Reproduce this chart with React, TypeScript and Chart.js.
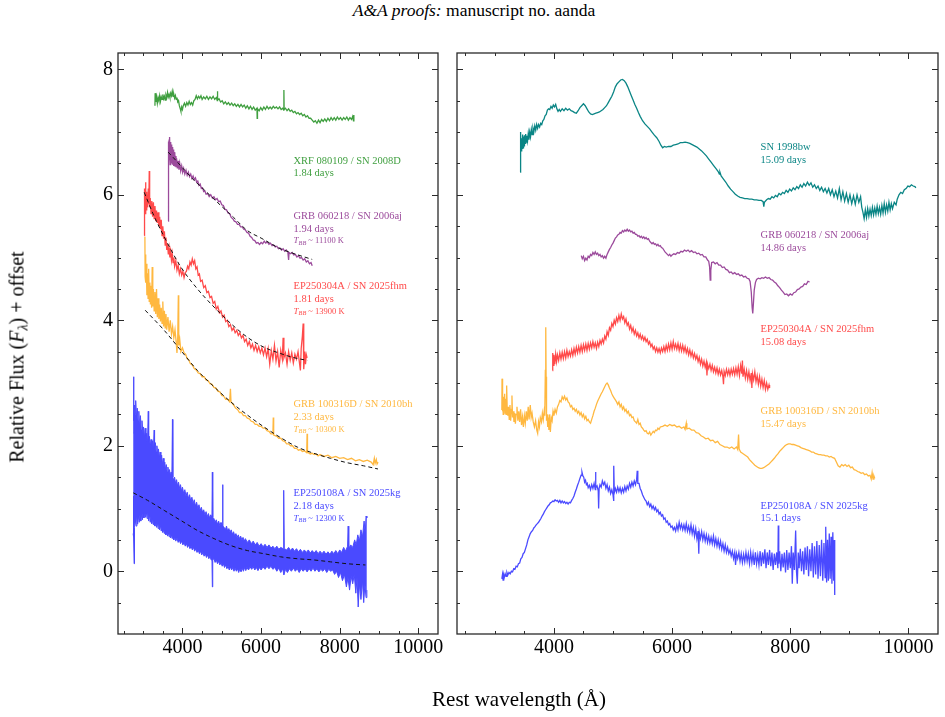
import React, { useEffect, useRef } from 'react';
import { Chart, registerables } from 'chart.js';

Chart.register(...registerables);

type P = [number, number];

// ---------- axes ----------
const X_MIN = 2360;
const X_MAX = 10500;
const Y_MIN = -1.0;
const Y_MAX = 8.26;
const X_TICKS = [4000, 6000, 8000, 10000];
const X_MINOR = [2500, 3000, 3500, 4500, 5000, 5500, 6500, 7000, 7500, 8500, 9000, 9500, 10500];
const Y_TICKS = [0, 2, 4, 6, 8];
const Y_MINOR = [-0.5, 0.5, 1, 1.5, 2.5, 3, 3.5, 4.5, 5, 5.5, 6.5, 7, 7.5];

// ---------- left panel: early spectra ----------
const XRF080109_EARLY: P[] = [[3300,7.42],[3305,7.62],[3320,7.48],[3340,7.56],[3360,7.46],[3380,7.55],[3400,7.50],[3420,7.58],[3440,7.49],[3460,7.56],[3480,7.52],[3500,7.60],[3520,7.53],[3540,7.57],[3560,7.51],[3580,7.59],[3600,7.55],[3620,7.63],[3640,7.56],[3660,7.60],[3680,7.55],[3700,7.62],[3720,7.58],[3740,7.65],[3760,7.57],[3780,7.60],[3800,7.54],[3820,7.58],[3840,7.52],[3860,7.55],[3880,7.48],[3900,7.50],[3920,7.42],[3940,7.38],[3960,7.33],[3980,7.40],[4000,7.36],[4020,7.42],[4050,7.46],[4080,7.41],[4110,7.47],[4140,7.43],[4170,7.49],[4200,7.44],[4230,7.47],[4260,7.43],[4290,7.50],[4320,7.52],[4350,7.58],[4380,7.53],[4410,7.57],[4440,7.54],[4470,7.58],[4500,7.52],[4540,7.56],[4580,7.53],[4620,7.57],[4660,7.52],[4700,7.56],[4740,7.53],[4780,7.57],[4820,7.52],[4860,7.55],[4885,7.50],[4890,7.65],[4895,7.51],[4930,7.53],[4970,7.48],[5010,7.50],[5050,7.45],[5090,7.48],[5130,7.44],[5170,7.47],[5210,7.43],[5250,7.46],[5290,7.42],[5330,7.45],[5370,7.41],[5410,7.44],[5450,7.40],[5490,7.44],[5530,7.40],[5570,7.43],[5610,7.38],[5650,7.42],[5690,7.37],[5730,7.41],[5770,7.36],[5810,7.40],[5850,7.35],[5895,7.38],[5900,7.22],[5908,7.37],[5950,7.34],[5990,7.39],[6030,7.35],[6070,7.40],[6110,7.36],[6150,7.41],[6190,7.37],[6230,7.40],[6270,7.37],[6310,7.41],[6350,7.38],[6390,7.40],[6430,7.37],[6470,7.40],[6510,7.36],[6550,7.38],[6575,7.35],[6580,7.67],[6586,7.36],[6620,7.38],[6660,7.34],[6700,7.37],[6740,7.33],[6780,7.35],[6820,7.31],[6860,7.33],[6900,7.29],[6940,7.31],[6980,7.28],[7020,7.30],[7060,7.26],[7100,7.28],[7140,7.24],[7180,7.26],[7220,7.22],[7260,7.22],[7300,7.19],[7340,7.16],[7380,7.18],[7420,7.14],[7460,7.19],[7500,7.15],[7540,7.20],[7580,7.17],[7620,7.21],[7660,7.17],[7700,7.22],[7740,7.18],[7780,7.23],[7820,7.19],[7860,7.23],[7900,7.19],[7940,7.24],[7980,7.20],[8020,7.23],[8060,7.19],[8100,7.23],[8140,7.20],[8180,7.24],[8220,7.19],[8260,7.23],[8300,7.20],[8330,7.25],[8350,7.18],[8360,7.27]];

const GRB060218_EARLY: P[] = [[3636,5.58],[3640,6.35],[3644,6.85],[3652,6.50],[3660,6.88],[3668,6.55],[3676,6.92],[3686,6.48],[3696,6.84],[3706,6.52],[3716,6.80],[3726,6.50],[3738,6.76],[3750,6.48],[3762,6.72],[3776,6.46],[3790,6.68],[3805,6.45],[3820,6.62],[3835,6.44],[3850,6.58],[3870,6.42],[3890,6.54],[3910,6.40],[3930,6.50],[3955,6.38],[3980,6.46],[4005,6.36],[4030,6.42],[4060,6.33],[4090,6.39],[4120,6.31],[4150,6.36],[4180,6.29],[4210,6.33],[4240,6.26],[4270,6.30],[4300,6.24],[4330,6.27],[4360,6.20],[4390,6.22],[4420,6.15],[4450,6.17],[4480,6.10],[4510,6.11],[4540,6.05],[4570,6.06],[4600,6.01],[4640,6.02],[4680,5.97],[4720,6.00],[4760,5.95],[4800,5.97],[4840,5.92],[4880,5.94],[4920,5.89],[4960,5.90],[5000,5.84],[5040,5.83],[5080,5.77],[5120,5.76],[5160,5.71],[5200,5.70],[5240,5.64],[5280,5.62],[5320,5.58],[5360,5.57],[5400,5.53],[5440,5.53],[5480,5.49],[5520,5.49],[5560,5.45],[5600,5.44],[5640,5.40],[5680,5.39],[5720,5.34],[5760,5.32],[5800,5.28],[5840,5.27],[5880,5.23],[5920,5.24],[5960,5.21],[6000,5.24],[6040,5.22],[6080,5.26],[6120,5.23],[6160,5.25],[6200,5.21],[6240,5.23],[6280,5.19],[6320,5.20],[6360,5.17],[6400,5.18],[6440,5.14],[6480,5.15],[6520,5.12],[6560,5.14],[6600,5.10],[6640,5.12],[6680,5.09],[6700,4.96],[6712,5.08],[6750,5.06],[6790,5.08],[6830,5.04],[6870,5.05],[6910,5.01],[6950,5.03],[6990,4.99],[7030,5.00],[7070,4.96],[7110,4.98],[7150,4.93],[7190,4.95],[7230,4.90],[7270,4.92],[7300,4.87]];

const EP250304A_EARLY: P[] = [[3027,5.35],[3030,5.90],[3040,6.10],[3050,5.70],[3060,6.20],[3070,5.85],[3080,6.05],[3090,5.75],[3100,6.00],[3115,5.80],[3130,6.10],[3145,5.85],[3155,6.38],[3165,5.80],[3180,5.95],[3200,5.70],[3220,5.90],[3240,5.65],[3260,5.88],[3280,5.62],[3300,5.82],[3320,5.58],[3340,5.75],[3360,5.55],[3380,5.72],[3400,5.50],[3420,5.65],[3440,5.45],[3460,5.60],[3480,5.35],[3500,5.50],[3520,5.30],[3540,5.42],[3560,5.20],[3580,5.32],[3600,5.12],[3620,5.22],[3640,5.05],[3660,5.15],[3680,5.00],[3700,5.10],[3720,4.96],[3740,5.06],[3760,4.92],[3780,5.00],[3800,4.86],[3830,4.95],[3860,4.80],[3890,4.88],[3920,4.74],[3950,4.82],[3980,4.72],[4010,4.78],[4040,4.68],[4070,4.76],[4100,4.78],[4130,4.86],[4160,4.82],[4190,4.93],[4220,4.88],[4250,4.98],[4280,4.90],[4310,4.95],[4340,4.82],[4370,4.85],[4400,4.72],[4430,4.74],[4460,4.62],[4500,4.64],[4540,4.52],[4580,4.55],[4620,4.44],[4660,4.46],[4700,4.36],[4740,4.38],[4780,4.27],[4820,4.30],[4860,4.18],[4900,4.22],[4940,4.12],[4980,4.15],[5020,4.05],[5060,4.08],[5100,3.98],[5140,4.00],[5180,3.90],[5220,3.93],[5260,3.84],[5300,3.88],[5340,3.80],[5380,3.84],[5420,3.76],[5460,3.80],[5500,3.72],[5540,3.76],[5580,3.66],[5620,3.70],[5660,3.60],[5700,3.66],[5740,3.56],[5780,3.62],[5820,3.52],[5860,3.60],[5900,3.50],[5940,3.58],[5980,3.48],[6020,3.56],[6060,3.45],[6100,3.56],[6140,3.42],[6180,3.55],[6220,3.30],[6260,3.52],[6300,3.38],[6340,3.60],[6380,3.35],[6420,3.50],[6460,3.25],[6500,3.52],[6540,3.38],[6560,3.72],[6580,3.40],[6620,3.48],[6660,3.30],[6700,3.50],[6740,3.36],[6780,3.48],[6820,3.32],[6860,3.46],[6900,3.38],[6940,3.50],[6980,3.30],[7000,3.20],[7020,3.55],[7050,3.75],[7070,3.95],[7080,3.40],[7090,3.22],[7110,3.50],[7130,3.30],[7150,3.45],[7170,3.40]];

const GRB100316D_EARLY: P[] = [[3044,5.33],[3050,4.70],[3060,5.05],[3070,4.60],[3080,4.90],[3095,4.40],[3110,4.75],[3125,4.35],[3140,4.82],[3155,4.30],[3170,4.60],[3185,4.25],[3200,4.55],[3215,4.20],[3230,4.85],[3245,4.22],[3260,4.50],[3280,4.15],[3300,4.45],[3320,4.10],[3340,4.50],[3360,4.05],[3380,4.35],[3400,4.02],[3420,4.25],[3440,3.98],[3460,4.20],[3480,3.95],[3500,4.30],[3520,3.90],[3540,4.15],[3560,3.88],[3580,4.10],[3600,3.85],[3630,4.05],[3660,3.82],[3690,4.00],[3720,3.78],[3750,3.90],[3780,3.72],[3810,3.85],[3840,3.65],[3860,3.48],[3880,3.75],[3895,4.40],[3905,3.60],[3930,3.70],[3960,3.50],[4000,3.56],[4040,3.48],[4080,3.46],[4120,3.39],[4160,3.37],[4200,3.31],[4250,3.29],[4300,3.23],[4350,3.21],[4400,3.16],[4450,3.15],[4500,3.10],[4550,3.10],[4600,3.05],[4650,3.04],[4700,2.99],[4750,2.98],[4800,2.93],[4850,2.92],[4900,2.87],[4950,2.86],[5000,2.80],[5050,2.79],[5100,2.74],[5150,2.74],[5200,2.70],[5220,2.91],[5235,2.70],[5300,2.65],[5350,2.60],[5400,2.58],[5450,2.53],[5500,2.53],[5550,2.48],[5600,2.48],[5650,2.44],[5700,2.43],[5750,2.39],[5800,2.38],[5850,2.34],[5900,2.34],[5950,2.31],[6000,2.31],[6050,2.28],[6100,2.28],[6150,2.24],[6200,2.23],[6250,2.19],[6300,2.19],[6310,2.45],[6320,2.17],[6400,2.15],[6450,2.12],[6500,2.12],[6550,2.08],[6600,2.07],[6650,2.03],[6700,2.03],[6750,2.00],[6800,2.00],[6850,1.96],[6900,1.96],[6950,1.93],[7000,1.94],[7050,1.91],[7100,1.92],[7160,1.89],[7170,2.19],[7180,1.90],[7250,1.87],[7300,1.88],[7350,1.86],[7400,1.87],[7450,1.84],[7500,1.86],[7600,1.83],[7700,1.85],[7800,1.81],[7900,1.83],[8000,1.80],[8100,1.81],[8200,1.78],[8300,1.80],[8400,1.76],[8500,1.78],[8600,1.75],[8700,1.77],[8800,1.74],[8850,1.70],[8880,1.80],[8900,1.72],[8930,1.78],[8950,1.71],[8975,1.74]];

const EP250108A_EARLY_HI: P[] = [[2745,2.20],[2755,3.10],[2765,2.40],[2780,2.65],[2795,2.50],[2810,2.72],[2830,2.45],[2850,2.60],[2870,2.40],[2890,2.55],[2910,2.30],[2930,2.48],[2950,2.25],[2970,2.40],[2990,2.20],[3010,2.30],[3030,2.12],[3050,2.28],[3070,2.05],[3090,2.20],[3110,2.02],[3130,2.55],[3140,2.05],[3160,2.15],[3180,1.98],[3200,2.10],[3220,1.95],[3240,2.08],[3260,1.92],[3280,2.25],[3290,1.95],[3310,2.05],[3330,1.90],[3350,2.00],[3370,1.85],[3390,1.95],[3410,1.80],[3430,1.90],[3450,1.75],[3470,1.85],[3490,1.70],[3510,1.80],[3530,1.66],[3550,1.74],[3570,1.62],[3590,1.70],[3610,1.58],[3630,1.66],[3650,1.55],[3670,1.62],[3690,1.52],[3710,1.58],[3730,1.48],[3745,2.42],[3755,1.50],[3775,1.45],[3800,1.50],[3825,1.40],[3850,1.46],[3875,1.36],[3900,1.42],[3925,1.32],[3950,1.38],[3975,1.28],[4000,1.34],[4030,1.24],[4060,1.30],[4090,1.20],[4120,1.26],[4150,1.16],[4180,1.22],[4210,1.12],[4240,1.18],[4270,1.08],[4300,1.14],[4330,1.04],[4360,1.10],[4390,1.00],[4420,1.06],[4450,0.97],[4480,1.02],[4510,0.94],[4540,0.98],[4570,0.90],[4600,0.95],[4630,0.87],[4660,0.92],[4690,0.85],[4720,0.90],[4750,0.86],[4760,1.58],[4770,0.86],[4800,0.84],[4830,0.78],[4860,0.82],[4890,0.75],[4920,0.80],[4950,0.73],[4980,0.78],[5010,0.74],[5020,1.38],[5030,0.72],[5060,0.70],[5090,0.66],[5120,0.72],[5150,0.64],[5180,0.68],[5210,0.62],[5240,0.66],[5270,0.59],[5300,0.63],[5330,0.56],[5360,0.60],[5390,0.54],[5420,0.58],[5450,0.52],[5480,0.56],[5510,0.50],[5540,0.54],[5570,0.48],[5600,0.52],[5650,0.46],[5700,0.50],[5750,0.44],[5800,0.48],[5850,0.42],[5900,0.46],[5950,0.40],[6000,0.44],[6050,0.39],[6100,0.43],[6150,0.38],[6200,0.42],[6250,0.37],[6300,0.40],[6350,0.36],[6400,0.40],[6450,0.35],[6500,0.38],[6560,0.36],[6575,1.29],[6590,0.36],[6650,0.34],[6700,0.38],[6750,0.33],[6800,0.37],[6850,0.32],[6900,0.36],[6950,0.31],[7000,0.35],[7050,0.30],[7100,0.34],[7150,0.30],[7200,0.34],[7250,0.29],[7300,0.33],[7350,0.29],[7400,0.33],[7450,0.28],[7500,0.32],[7550,0.28],[7600,0.32],[7650,0.27],[7700,0.31],[7750,0.27],[7800,0.32],[7850,0.28],[7900,0.33],[7950,0.28],[8000,0.34],[8050,0.30],[8100,0.38],[8150,0.32],[8200,0.40],[8215,0.72],[8230,0.36],[8280,0.42],[8330,0.38],[8380,0.50],[8420,0.42],[8460,0.58],[8500,0.48],[8540,0.66],[8580,0.55],[8620,0.80],[8650,0.62],[8670,0.88],[8690,0.85]];

const EP250108A_EARLY_LO: P[] = [[2745,0.60],[2752,1.20],[2760,0.55],[2770,0.12],[2780,0.70],[2800,0.82],[2820,0.72],[2840,0.86],[2860,0.75],[2880,0.88],[2900,0.78],[2920,0.90],[2940,0.80],[2960,0.92],[2980,0.82],[3000,0.95],[3020,0.85],[3040,0.96],[3060,0.86],[3080,0.95],[3100,0.84],[3120,0.92],[3140,0.80],[3160,0.90],[3180,0.78],[3200,0.88],[3220,0.76],[3240,0.85],[3260,0.74],[3280,0.82],[3300,0.72],[3320,0.80],[3340,0.70],[3360,0.78],[3380,0.68],[3400,0.75],[3420,0.66],[3440,0.73],[3460,0.64],[3480,0.70],[3500,0.62],[3520,0.68],[3540,0.60],[3560,0.66],[3580,0.58],[3600,0.64],[3620,0.56],[3640,0.62],[3660,0.55],[3680,0.60],[3700,0.53],[3720,0.58],[3740,0.52],[3760,0.56],[3780,0.50],[3800,0.55],[3830,0.48],[3860,0.53],[3890,0.46],[3920,0.50],[3950,0.44],[3980,0.48],[4010,0.42],[4040,0.46],[4070,0.40],[4100,0.44],[4130,0.38],[4160,0.42],[4190,0.36],[4220,0.40],[4250,0.34],[4280,0.38],[4310,0.32],[4340,0.36],[4370,0.30],[4400,0.34],[4430,0.28],[4460,0.32],[4490,0.26],[4520,0.30],[4550,0.24],[4580,0.28],[4610,0.22],[4640,0.26],[4670,0.20],[4700,0.24],[4730,0.18],[4750,0.20],[4760,-0.25],[4770,0.18],[4800,0.20],[4830,0.14],[4860,0.18],[4890,0.12],[4920,0.16],[4950,0.10],[4980,0.14],[5010,0.08],[5040,0.12],[5070,0.06],[5100,0.10],[5130,0.04],[5160,0.08],[5190,0.02],[5220,0.07],[5250,0.02],[5280,0.06],[5310,0.00],[5340,0.05],[5370,0.00],[5400,0.04],[5430,-0.02],[5460,0.04],[5490,-0.01],[5520,0.05],[5550,0.00],[5580,0.06],[5610,0.01],[5640,0.06],[5680,0.02],[5720,0.07],[5760,0.03],[5800,0.07],[5840,0.02],[5880,0.06],[5920,0.01],[5960,0.06],[6000,0.02],[6050,0.07],[6100,0.03],[6150,0.08],[6200,0.04],[6250,0.08],[6300,0.03],[6350,0.06],[6400,0.00],[6450,0.05],[6500,-0.02],[6550,0.04],[6580,-0.06],[6620,0.03],[6670,-0.02],[6720,0.04],[6770,0.00],[6820,0.05],[6870,0.00],[6920,0.04],[6970,-0.02],[7020,0.04],[7070,0.00],[7120,0.04],[7170,-0.01],[7220,0.04],[7270,0.00],[7320,0.05],[7370,0.00],[7420,0.04],[7470,-0.01],[7520,0.03],[7570,0.00],[7620,0.04],[7670,-0.02],[7720,0.03],[7770,0.00],[7820,0.02],[7870,-0.05],[7920,0.00],[7970,-0.10],[8020,-0.02],[8070,-0.15],[8120,-0.05],[8170,-0.25],[8210,-0.10],[8250,-0.30],[8290,-0.08],[8330,-0.20],[8370,-0.05],[8410,-0.35],[8440,-0.10],[8470,-0.57],[8500,-0.20],[8540,-0.45],[8580,-0.15],[8610,-0.50],[8640,-0.20],[8670,-0.42],[8690,-0.30]];

// blackbody fits (dashed)
const BB_GRB060218: P[] = [[3636,6.68],[3800,6.57],[4000,6.43],[4296,6.23],[4500,6.11],[5058,5.78],[5300,5.64],[5650,5.43],[6000,5.31],[6496,5.14],[6800,5.07],[7300,4.97]];
const BB_EP250304A: P[] = [[3027,6.04],[3250,5.70],[3535,5.33],[3958,4.85],[4381,4.50],[4804,4.21],[5227,3.95],[5650,3.73],[6073,3.57],[6496,3.47],[6800,3.41],[7173,3.36]];
const BB_GRB100316D: P[] = [[3052,4.16],[3535,3.84],[3958,3.52],[4381,3.20],[4804,2.94],[5227,2.70],[5650,2.49],[6073,2.30],[6496,2.13],[6919,1.98],[7342,1.88],[7765,1.80],[8188,1.73],[8611,1.68],[8974,1.63]];
const BB_EP250108A: P[] = [[2748,1.25],[3112,1.13],[3535,0.97],[3958,0.81],[4381,0.65],[4804,0.52],[5227,0.41],[5650,0.33],[6073,0.28],[6496,0.23],[6919,0.20],[7342,0.18],[7765,0.15],[8188,0.12],[8653,0.10]];

// ---------- right panel: ~15 day spectra ----------
const SN1998BW_LATE: P[] = [[3429,6.36],[3431,7.00],[3436,6.72],[3442,6.95],[3448,6.70],[3455,6.90],[3462,6.74],[3470,6.96],[3478,6.75],[3486,6.93],[3494,6.78],[3502,6.95],[3512,6.82],[3522,6.97],[3532,6.84],[3542,6.94],[3554,6.86],[3566,6.98],[3578,6.88],[3590,7.00],[3604,6.92],[3618,7.04],[3632,6.96],[3646,7.06],[3660,7.00],[3676,7.10],[3692,7.03],[3708,7.12],[3724,7.06],[3740,7.12],[3758,7.08],[3776,7.14],[3794,7.12],[3812,7.18],[3830,7.20],[3850,7.26],[3870,7.28],[3890,7.35],[3910,7.37],[3930,7.36],[3950,7.41],[3970,7.38],[3990,7.43],[4010,7.40],[4030,7.44],[4050,7.37],[4070,7.33],[4090,7.36],[4110,7.33],[4140,7.37],[4170,7.34],[4200,7.38],[4230,7.35],[4260,7.37],[4290,7.34],[4320,7.33],[4350,7.31],[4380,7.30],[4410,7.34],[4440,7.39],[4470,7.42],[4500,7.45],[4530,7.42],[4560,7.37],[4590,7.32],[4620,7.29],[4650,7.28],[4680,7.29],[4710,7.30],[4740,7.31],[4770,7.32],[4800,7.34],[4830,7.36],[4860,7.39],[4890,7.42],[4920,7.47],[4950,7.52],[4980,7.57],[5010,7.64],[5040,7.72],[5070,7.77],[5100,7.80],[5130,7.83],[5160,7.84],[5190,7.82],[5220,7.78],[5250,7.72],[5280,7.65],[5310,7.58],[5340,7.51],[5370,7.44],[5400,7.38],[5430,7.31],[5460,7.25],[5500,7.18],[5540,7.13],[5580,7.09],[5620,7.05],[5660,7.00],[5700,6.95],[5740,6.91],[5780,6.85],[5810,6.79],[5840,6.75],[5870,6.77],[5900,6.76],[5940,6.77],[5980,6.77],[6020,6.79],[6060,6.80],[6100,6.81],[6140,6.83],[6180,6.83],[6220,6.84],[6260,6.83],[6300,6.82],[6340,6.80],[6380,6.78],[6420,6.76],[6460,6.73],[6500,6.70],[6540,6.66],[6580,6.62],[6620,6.57],[6660,6.52],[6700,6.47],[6740,6.42],[6780,6.37],[6800,6.33],[6810,6.36],[6830,6.30],[6870,6.25],[6910,6.20],[6950,6.14],[6990,6.09],[7030,6.05],[7070,6.01],[7110,5.98],[7150,5.96],[7190,5.95],[7230,5.94],[7270,5.94],[7310,5.93],[7350,5.93],[7390,5.92],[7430,5.92],[7470,5.91],[7510,5.91],[7540,5.89],[7552,5.81],[7562,5.88],[7600,5.92],[7630,5.94],[7660,5.93],[7690,5.97],[7720,5.95],[7750,5.99],[7780,5.97],[7810,6.02],[7840,6.00],[7870,6.04],[7900,6.02],[7930,6.07],[7960,6.04],[7990,6.09],[8020,6.06],[8050,6.11],[8080,6.08],[8110,6.13],[8140,6.10],[8170,6.16],[8200,6.12],[8230,6.18],[8260,6.14],[8290,6.20],[8320,6.15],[8350,6.19],[8380,6.12],[8410,6.16],[8440,6.10],[8470,6.14],[8500,6.07],[8530,6.12],[8560,6.05],[8590,6.10],[8620,6.03],[8650,6.10],[8680,6.00],[8710,6.08],[8740,5.97],[8770,6.06],[8800,5.95],[8830,6.10],[8860,5.92],[8890,6.05],[8920,5.90],[8950,6.02],[8980,5.88],[9010,6.00],[9040,5.86],[9070,5.98],[9100,5.85],[9130,6.00],[9160,5.88],[9190,5.97],[9210,5.80],[9230,5.72],[9250,5.62],[9270,5.76],[9290,5.64],[9310,5.78],[9330,5.66],[9350,5.77],[9370,5.67],[9390,5.80],[9410,5.68],[9430,5.79],[9450,5.69],[9470,5.82],[9490,5.70],[9510,5.80],[9530,5.69],[9550,5.83],[9570,5.71],[9590,5.86],[9610,5.72],[9630,5.84],[9650,5.74],[9670,5.88],[9690,5.76],[9710,5.86],[9730,5.78],[9760,5.88],[9790,5.84],[9810,5.93],[9840,6.00],[9870,6.04],[9900,6.02],[9930,6.08],[9960,6.10],[9990,6.14],[10020,6.13],[10050,6.16],[10080,6.14],[10110,6.13],[10125,6.11]];

const GRB060218_LATE: P[] = [[4463,5.03],[4480,4.98],[4500,5.02],[4520,4.95],[4540,4.99],[4560,4.96],[4580,5.02],[4600,5.00],[4620,5.05],[4640,5.03],[4660,5.08],[4680,5.05],[4700,5.09],[4720,5.05],[4740,5.07],[4760,5.03],[4780,5.05],[4800,5.01],[4820,5.03],[4840,4.99],[4860,5.02],[4880,4.99],[4900,5.05],[4920,5.09],[4940,5.13],[4960,5.16],[4980,5.20],[5000,5.23],[5020,5.27],[5040,5.31],[5060,5.33],[5080,5.36],[5100,5.37],[5120,5.40],[5140,5.39],[5160,5.43],[5180,5.41],[5200,5.44],[5220,5.42],[5240,5.45],[5260,5.42],[5280,5.44],[5300,5.41],[5320,5.42],[5340,5.39],[5360,5.40],[5380,5.37],[5400,5.37],[5420,5.34],[5440,5.35],[5460,5.32],[5480,5.34],[5500,5.31],[5520,5.33],[5540,5.30],[5560,5.32],[5580,5.29],[5600,5.30],[5620,5.26],[5640,5.24],[5660,5.22],[5680,5.24],[5700,5.21],[5720,5.22],[5740,5.19],[5760,5.21],[5780,5.18],[5800,5.19],[5820,5.16],[5840,5.15],[5860,5.12],[5880,5.09],[5900,5.07],[5920,5.05],[5940,5.03],[5960,5.05],[5980,5.02],[6000,5.04],[6030,5.06],[6060,5.05],[6090,5.08],[6120,5.07],[6150,5.10],[6180,5.09],[6210,5.12],[6240,5.10],[6270,5.12],[6300,5.09],[6330,5.11],[6360,5.08],[6390,5.09],[6420,5.06],[6450,5.07],[6480,5.04],[6510,5.05],[6540,5.01],[6570,5.01],[6600,4.96],[6620,4.94],[6635,4.85],[6645,4.64],[6655,4.80],[6670,4.92],[6700,4.93],[6730,4.90],[6760,4.92],[6790,4.88],[6820,4.88],[6850,4.84],[6880,4.85],[6910,4.81],[6940,4.80],[6970,4.76],[7000,4.77],[7030,4.74],[7060,4.76],[7090,4.73],[7120,4.74],[7150,4.71],[7180,4.72],[7210,4.69],[7240,4.70],[7270,4.67],[7300,4.66],[7320,4.62],[7340,4.45],[7355,4.20],[7365,4.11],[7375,4.25],[7390,4.48],[7410,4.60],[7430,4.65],[7460,4.67],[7490,4.66],[7520,4.68],[7550,4.67],[7580,4.69],[7610,4.67],[7640,4.68],[7670,4.65],[7700,4.64],[7730,4.61],[7760,4.59],[7790,4.55],[7820,4.52],[7850,4.48],[7880,4.45],[7910,4.41],[7940,4.42],[7970,4.39],[8000,4.42],[8030,4.40],[8060,4.44],[8090,4.45],[8120,4.49],[8150,4.50],[8180,4.53],[8210,4.54],[8240,4.58],[8270,4.57],[8300,4.62],[8328,4.61]];

const EP250304A_LATE: P[] = [[3977,3.20],[3980,3.48],[3990,3.28],[4000,3.45],[4015,3.30],[4030,3.46],[4045,3.34],[4060,3.45],[4080,3.36],[4100,3.48],[4120,3.38],[4140,3.49],[4160,3.39],[4180,3.50],[4200,3.40],[4220,3.52],[4240,3.42],[4260,3.50],[4280,3.43],[4300,3.53],[4320,3.44],[4340,3.55],[4360,3.46],[4380,3.57],[4400,3.48],[4420,3.58],[4440,3.49],[4460,3.60],[4480,3.50],[4500,3.61],[4520,3.52],[4540,3.62],[4560,3.52],[4580,3.63],[4600,3.54],[4620,3.64],[4640,3.56],[4660,3.66],[4680,3.57],[4700,3.64],[4720,3.55],[4740,3.65],[4760,3.58],[4780,3.68],[4800,3.62],[4820,3.70],[4840,3.64],[4860,3.75],[4880,3.70],[4900,3.82],[4920,3.76],[4940,3.88],[4960,3.84],[4980,3.95],[5000,3.90],[5020,4.00],[5040,3.94],[5060,4.04],[5080,3.98],[5100,4.08],[5120,4.00],[5140,4.10],[5160,4.02],[5180,4.06],[5200,3.96],[5220,4.02],[5240,3.92],[5260,3.96],[5280,3.86],[5300,3.92],[5320,3.82],[5340,3.88],[5360,3.78],[5380,3.84],[5400,3.75],[5420,3.80],[5440,3.72],[5460,3.78],[5480,3.70],[5500,3.75],[5520,3.68],[5540,3.73],[5560,3.66],[5580,3.70],[5600,3.62],[5620,3.66],[5640,3.58],[5660,3.62],[5680,3.54],[5700,3.58],[5720,3.50],[5740,3.56],[5760,3.49],[5780,3.55],[5800,3.48],[5820,3.56],[5840,3.50],[5860,3.58],[5880,3.50],[5900,3.60],[5920,3.52],[5940,3.62],[5960,3.53],[5980,3.64],[6000,3.54],[6020,3.66],[6040,3.55],[6060,3.62],[6080,3.54],[6100,3.63],[6120,3.52],[6140,3.61],[6160,3.51],[6180,3.60],[6200,3.50],[6220,3.58],[6240,3.48],[6260,3.55],[6280,3.45],[6300,3.53],[6320,3.43],[6340,3.50],[6360,3.40],[6380,3.47],[6400,3.38],[6420,3.44],[6440,3.34],[6460,3.41],[6480,3.30],[6500,3.38],[6520,3.27],[6540,3.35],[6560,3.25],[6580,3.33],[6590,3.12],[6600,3.30],[6620,3.23],[6640,3.30],[6660,3.20],[6680,3.28],[6700,3.18],[6720,3.25],[6740,3.16],[6760,3.24],[6780,3.14],[6800,3.22],[6820,3.13],[6840,3.20],[6860,3.10],[6870,2.98],[6880,3.19],[6900,3.12],[6920,3.22],[6940,3.13],[6960,3.21],[6980,3.12],[7000,3.22],[7020,3.14],[7040,3.23],[7060,3.13],[7080,3.24],[7100,3.14],[7120,3.26],[7140,3.12],[7160,3.28],[7180,3.15],[7190,3.36],[7200,3.10],[7220,3.22],[7240,3.08],[7260,3.20],[7280,3.06],[7300,3.18],[7320,3.04],[7340,3.16],[7350,2.92],[7360,3.15],[7380,3.05],[7400,3.18],[7420,3.02],[7440,3.12],[7460,2.98],[7480,3.10],[7500,2.95],[7520,3.06],[7540,2.93],[7560,3.04],[7580,2.90],[7600,3.00],[7620,2.90],[7640,2.97],[7650,2.92]];

const GRB100316D_LATE: P[] = [[3119,2.57],[3122,3.07],[3128,2.55],[3135,2.80],[3142,2.50],[3150,2.78],[3158,2.56],[3166,2.83],[3174,2.52],[3182,2.75],[3190,2.50],[3200,2.96],[3210,2.58],[3220,2.48],[3232,2.62],[3244,2.42],[3256,2.65],[3268,2.40],[3280,2.58],[3290,2.80],[3300,2.45],[3312,2.55],[3324,2.38],[3336,2.52],[3348,2.35],[3360,2.50],[3375,2.62],[3390,2.40],[3405,2.55],[3420,2.38],[3436,2.58],[3452,2.33],[3468,2.46],[3484,2.30],[3500,2.48],[3516,2.36],[3532,2.55],[3548,2.40],[3565,2.62],[3580,2.42],[3600,2.65],[3615,2.45],[3630,2.52],[3650,2.38],[3670,2.30],[3690,2.40],[3710,2.25],[3725,2.20],[3740,2.38],[3755,2.30],[3770,2.45],[3790,2.38],[3805,2.52],[3820,2.42],[3835,2.55],[3845,2.48],[3855,3.20],[3862,3.89],[3868,3.10],[3875,2.40],[3885,2.50],[3895,2.30],[3905,2.45],[3915,2.25],[3925,2.50],[3940,2.22],[3955,2.45],[3970,2.40],[3985,2.55],[4000,2.48],[4020,2.58],[4040,2.52],[4060,2.62],[4080,2.66],[4100,2.72],[4120,2.70],[4140,2.78],[4160,2.74],[4180,2.79],[4200,2.73],[4220,2.76],[4240,2.70],[4260,2.68],[4280,2.62],[4300,2.64],[4320,2.58],[4340,2.60],[4360,2.55],[4380,2.58],[4400,2.52],[4420,2.55],[4440,2.49],[4460,2.53],[4480,2.46],[4500,2.50],[4520,2.43],[4540,2.47],[4560,2.40],[4580,2.42],[4600,2.38],[4620,2.36],[4640,2.42],[4660,2.48],[4680,2.55],[4700,2.60],[4720,2.66],[4740,2.71],[4760,2.75],[4780,2.79],[4800,2.83],[4820,2.86],[4840,2.90],[4860,2.94],[4880,2.98],[4900,3.00],[4920,2.97],[4940,2.92],[4960,2.88],[4980,2.83],[5000,2.79],[5020,2.76],[5040,2.73],[5060,2.70],[5080,2.66],[5100,2.70],[5120,2.62],[5140,2.66],[5160,2.58],[5180,2.62],[5200,2.55],[5220,2.58],[5240,2.52],[5260,2.55],[5280,2.48],[5300,2.50],[5320,2.45],[5340,2.46],[5360,2.40],[5380,2.38],[5400,2.36],[5420,2.42],[5440,2.34],[5460,2.36],[5480,2.30],[5500,2.28],[5520,2.25],[5540,2.23],[5560,2.24],[5580,2.20],[5600,2.19],[5620,2.22],[5640,2.17],[5660,2.20],[5680,2.23],[5700,2.21],[5720,2.25],[5740,2.24],[5760,2.28],[5780,2.26],[5800,2.30],[5840,2.31],[5880,2.33],[5920,2.31],[5960,2.34],[6000,2.32],[6040,2.33],[6080,2.30],[6120,2.31],[6160,2.28],[6200,2.30],[6220,2.26],[6240,2.36],[6250,2.27],[6290,2.28],[6330,2.25],[6370,2.25],[6410,2.21],[6450,2.20],[6490,2.16],[6530,2.14],[6570,2.11],[6610,2.12],[6650,2.08],[6690,2.09],[6730,2.05],[6770,2.07],[6810,2.02],[6850,2.00],[6890,1.98],[6930,1.98],[6970,1.96],[7010,1.98],[7050,1.95],[7090,1.98],[7110,1.94],[7125,2.18],[7135,1.95],[7160,1.90],[7190,1.88],[7220,1.86],[7250,1.84],[7280,1.82],[7310,1.78],[7340,1.75],[7370,1.72],[7400,1.69],[7430,1.67],[7460,1.65],[7490,1.64],[7520,1.64],[7550,1.65],[7580,1.67],[7610,1.69],[7640,1.71],[7670,1.74],[7700,1.77],[7730,1.80],[7760,1.84],[7790,1.87],[7820,1.91],[7850,1.94],[7880,1.97],[7910,2.00],[7940,2.02],[7970,2.03],[8000,2.03],[8030,2.02],[8060,2.02],[8090,2.01],[8120,2.00],[8150,1.99],[8180,1.97],[8210,1.96],[8240,1.95],[8270,1.94],[8300,1.93],[8330,1.92],[8360,1.90],[8390,1.90],[8420,1.88],[8450,1.87],[8480,1.86],[8510,1.86],[8540,1.85],[8570,1.85],[8600,1.84],[8630,1.84],[8660,1.82],[8690,1.83],[8720,1.81],[8750,1.80],[8780,1.74],[8810,1.68],[8840,1.66],[8870,1.70],[8900,1.68],[8930,1.70],[8960,1.67],[8990,1.69],[9020,1.65],[9050,1.66],[9080,1.62],[9110,1.61],[9140,1.59],[9170,1.58],[9200,1.56],[9230,1.57],[9260,1.54],[9290,1.55],[9320,1.52],[9350,1.53],[9370,1.47],[9385,1.57],[9400,1.47],[9415,1.52],[9430,1.48]];

const EP250108A_LATE: P[] = [[3119,-0.12],[3130,-0.05],[3140,-0.14],[3150,-0.06],[3160,-0.10],[3175,-0.04],[3190,-0.08],[3205,-0.02],[3220,-0.06],[3240,-0.02],[3260,-0.04],[3280,0.00],[3300,-0.01],[3320,0.04],[3340,0.03],[3360,0.08],[3380,0.07],[3400,0.12],[3420,0.13],[3440,0.20],[3460,0.22],[3480,0.28],[3500,0.30],[3520,0.36],[3540,0.42],[3560,0.50],[3580,0.55],[3600,0.60],[3620,0.63],[3640,0.65],[3660,0.69],[3680,0.71],[3700,0.74],[3720,0.76],[3740,0.78],[3760,0.81],[3780,0.84],[3800,0.88],[3820,0.91],[3840,0.95],[3860,0.98],[3880,1.01],[3900,1.04],[3920,1.06],[3940,1.09],[3960,1.10],[3980,1.12],[4000,1.11],[4020,1.14],[4040,1.12],[4060,1.13],[4080,1.10],[4100,1.13],[4120,1.09],[4140,1.12],[4160,1.09],[4180,1.11],[4200,1.08],[4220,1.10],[4240,1.07],[4260,1.10],[4280,1.09],[4300,1.13],[4320,1.16],[4340,1.20],[4360,1.26],[4380,1.31],[4400,1.37],[4420,1.42],[4440,1.48],[4460,1.53],[4475,1.58],[4490,1.52],[4505,1.50],[4520,1.42],[4535,1.45],[4550,1.38],[4565,1.40],[4580,1.33],[4600,1.37],[4620,1.30],[4640,1.38],[4660,1.32],[4680,1.40],[4700,1.30],[4705,1.58],[4710,1.33],[4730,1.36],[4750,1.28],[4757,1.00],[4765,1.32],[4780,1.38],[4800,1.34],[4820,1.44],[4840,1.38],[4860,1.42],[4880,1.32],[4900,1.38],[4920,1.28],[4940,1.34],[4960,1.24],[4980,1.30],[5000,1.22],[5010,1.12],[5015,1.68],[5022,1.25],[5040,1.32],[5060,1.26],[5080,1.34],[5100,1.27],[5120,1.33],[5140,1.25],[5160,1.32],[5180,1.26],[5200,1.35],[5220,1.28],[5240,1.36],[5260,1.31],[5280,1.40],[5300,1.34],[5320,1.42],[5340,1.36],[5360,1.44],[5380,1.38],[5400,1.46],[5410,1.60],[5420,1.40],[5440,1.40],[5460,1.32],[5480,1.28],[5500,1.22],[5520,1.18],[5540,1.14],[5560,1.12],[5580,1.06],[5600,1.10],[5620,1.03],[5640,1.07],[5660,1.00],[5680,1.04],[5700,0.98],[5720,1.02],[5740,0.95],[5760,0.98],[5780,0.91],[5800,0.94],[5820,0.88],[5840,0.90],[5860,0.83],[5880,0.85],[5900,0.78],[5920,0.80],[5940,0.74],[5960,0.76],[5980,0.70],[6000,0.72],[6020,0.66],[6040,0.70],[6060,0.64],[6080,0.74],[6100,0.66],[6120,0.78],[6140,0.68],[6160,0.75],[6180,0.66],[6200,0.74],[6220,0.65],[6240,0.76],[6260,0.64],[6280,0.72],[6300,0.62],[6320,0.74],[6340,0.60],[6360,0.70],[6380,0.56],[6400,0.68],[6420,0.52],[6440,0.64],[6452,0.28],[6460,0.62],[6480,0.52],[6500,0.63],[6520,0.50],[6540,0.60],[6560,0.48],[6580,0.58],[6600,0.46],[6620,0.56],[6640,0.45],[6660,0.54],[6680,0.44],[6700,0.56],[6720,0.42],[6740,0.52],[6760,0.40],[6780,0.50],[6800,0.38],[6820,0.48],[6840,0.35],[6860,0.44],[6880,0.32],[6900,0.42],[6920,0.30],[6940,0.38],[6960,0.28],[6980,0.34],[7000,0.24],[7020,0.32],[7040,0.20],[7060,0.30],[7074,0.10],[7090,0.28],[7110,0.20],[7130,0.30],[7150,0.16],[7170,0.28],[7190,0.14],[7210,0.27],[7230,0.15],[7250,0.30],[7270,0.16],[7290,0.28],[7310,0.12],[7330,0.30],[7350,0.14],[7370,0.28],[7390,0.10],[7410,0.30],[7430,0.12],[7450,0.26],[7470,0.10],[7490,0.32],[7510,0.08],[7530,0.30],[7550,0.12],[7570,0.35],[7590,0.05],[7610,0.30],[7630,0.10],[7650,0.34],[7670,0.08],[7690,0.30],[7710,0.02],[7730,0.28],[7750,0.10],[7770,0.30],[7790,0.05],[7797,0.73],[7805,0.12],[7820,0.32],[7840,0.00],[7860,0.28],[7880,0.06],[7900,0.30],[7920,-0.02],[7940,0.34],[7960,0.02],[7980,0.30],[8000,0.05],[8020,0.40],[8034,-0.20],[8050,0.30],[8070,0.02],[8091,0.65],[8105,0.00],[8119,-0.20],[8135,0.30],[8150,0.05],[8170,0.36],[8190,0.00],[8210,0.32],[8230,-0.05],[8250,0.38],[8270,0.02],[8290,0.40],[8310,-0.08],[8330,0.35],[8350,0.00],[8370,0.45],[8390,-0.10],[8410,0.40],[8430,-0.05],[8450,0.48],[8470,-0.12],[8490,0.42],[8510,-0.08],[8530,0.50],[8550,-0.15],[8570,0.45],[8590,-0.10],[8600,0.71],[8615,-0.18],[8630,0.50],[8645,-0.15],[8660,0.60],[8675,-0.12],[8690,0.55],[8705,-0.20],[8720,0.62],[8735,-0.15],[8745,0.50],[8752,-0.38]];

// ---------- annotations ----------
const LEFT_NAMES = ['XRF 080109 / SN 2008D', 'GRB 060218 / SN 2006aj', 'EP250304A / SN 2025fhm', 'GRB 100316D / SN 2010bh', 'EP250108A / SN 2025kg'];
const LEFT_EPOCHS = ['1.84 days', '1.94 days', '1.81 days', '2.33 days', '2.18 days'];
const LEFT_TBB = ['', '11100', '13900', '10300', '12300'];
const LEFT_LABEL_FLUX = [6.54, 5.66, 4.54, 2.66, 1.24];
const LEFT_LABEL_WAVE = 6825;

const RIGHT_NAMES = ['SN 1998bw', 'GRB 060218 / SN 2006aj', 'EP250304A / SN 2025fhm', 'GRB 100316D / SN 2010bh', 'EP250108A / SN 2025kg'];
const RIGHT_EPOCHS = ['15.09 days', '14.86 days', '15.08 days', '15.47 days', '15.1 days'];
const RIGHT_TBB = ['', '', '', '', ''];
const RIGHT_LABEL_FLUX = [6.75, 5.35, 3.85, 2.55, 1.04];
const RIGHT_LABEL_WAVE = 7498;

// ---------- styles ----------
const SERIF = '"Liberation Serif", "Times New Roman", Times, serif';
const GREEN = '#3f9f3f';
const PURPLE = '#9b4a9b';
const RED = '#ff4a4a';
const ORANGE = '#ffb840';
const BLUE = '#4a4aff';
const TEAL = '#0a8585';
const LEFT_COLORS = [GREEN, PURPLE, RED, ORANGE, BLUE];
const RIGHT_COLORS = [TEAL, PURPLE, RED, ORANGE, BLUE];

const toXY = (a: P[]) => a.map(([x, y]) => ({ x, y }));

function spec(data: P[], color: string, extra: any = {}) {
  return {
    data: toXY(data),
    borderColor: color,
    backgroundColor: color,
    borderWidth: 1.3,
    pointRadius: 0,
    tension: 0,
    fill: false,
    ...extra,
  };
}
function bbFit(data: P[]) {
  return {
    data: toXY(data),
    borderColor: '#111',
    borderWidth: 1,
    borderDash: [4, 3],
    pointRadius: 0,
    fill: false,
    cubicInterpolationMode: 'monotone',
  };
}

const framePlugin = {
  id: 'frame',
  afterDraw(chart: any) {
    const { ctx, chartArea: a, scales } = chart;
    const xs = scales.x;
    const ys = scales.y;
    ctx.save();
    ctx.strokeStyle = '#2a2a2a';
    ctx.lineWidth = 1.3;
    ctx.strokeRect(a.left, a.top, a.right - a.left, a.bottom - a.top);
    ctx.lineWidth = 1;
    const seg = (x1: number, y1: number, x2: number, y2: number) => {
      ctx.beginPath();
      ctx.moveTo(x1, y1);
      ctx.lineTo(x2, y2);
      ctx.stroke();
    };
    const xt = (vals: number[], len: number) => vals.forEach((v) => {
      const p = Math.round(xs.getPixelForValue(v)) + 0.5;
      if (p < a.left || p > a.right) return;
      seg(p, a.bottom, p, a.bottom - len);
      seg(p, a.top, p, a.top + len);
    });
    const yt = (vals: number[], len: number) => vals.forEach((v) => {
      const p = Math.round(ys.getPixelForValue(v)) + 0.5;
      if (p < a.top || p > a.bottom) return;
      seg(a.left, p, a.left + len, p);
      seg(a.right, p, a.right - len, p);
    });
    xt(X_TICKS, 6);
    xt(X_MINOR, 3);
    yt(Y_TICKS, 6);
    yt(Y_MINOR, 3);
    ctx.restore();
  },
};

function labelPlugin(names: string[], epochs: string[], tbb: string[], fluxes: number[], wave: number, colors: string[]) {
  return {
    id: 'labels',
    afterDatasetsDraw(chart: any) {
      const { ctx, scales } = chart;
      const x = scales.x.getPixelForValue(wave);
      ctx.save();
      ctx.textBaseline = 'middle';
      ctx.textAlign = 'left';
      names.forEach((name, i) => {
        const y = scales.y.getPixelForValue(fluxes[i]);
        ctx.fillStyle = colors[i];
        ctx.font = `10.5px ${SERIF}`;
        ctx.fillText(name, x, y);
        ctx.fillText(epochs[i], x, y + 12.7);
        if (tbb[i]) {
          const yt = y + 25;
          ctx.font = `italic 9px ${SERIF}`;
          ctx.fillText('T', x, yt);
          let cx = x + ctx.measureText('T').width;
          ctx.font = `italic 6.3px ${SERIF}`;
          ctx.fillText('BB', cx, yt + 2);
          cx += ctx.measureText('BB').width;
          ctx.font = `8.5px ${SERIF}`;
          ctx.fillText(` ~ ${tbb[i]} K`, cx, yt);
        }
      });
      ctx.restore();
    },
  };
}

function makeConfig(datasets: any[], showY: boolean, yWidth: number, padRight: number, plugin: any) {
  return {
    type: 'line',
    data: { datasets },
    plugins: [framePlugin, plugin],
    options: {
      responsive: false,
      maintainAspectRatio: false,
      animation: false,
      events: [],
      parsing: true,
      layout: { padding: { left: 0, right: padRight, top: 53, bottom: 43 } },
      plugins: { legend: { display: false }, tooltip: { enabled: false }, title: { display: false } },
      scales: {
        x: {
          type: 'linear',
          min: X_MIN,
          max: X_MAX,
          grid: { display: false, drawTicks: false },
          border: { display: false },
          afterBuildTicks: (s: any) => { s.ticks = X_TICKS.map((v) => ({ value: v })); },
          afterFit: (s: any) => { s.height = 40; s.paddingLeft = 0; s.paddingRight = 0; },
          ticks: {
            autoSkip: false, maxRotation: 0, minRotation: 0, padding: 2, color: '#000',
            font: { family: SERIF, size: 20 },
            callback: (v: any) => String(v),
          },
        },
        y: {
          type: 'linear',
          min: Y_MIN,
          max: Y_MAX,
          grid: { display: false, drawTicks: false },
          border: { display: false },
          afterBuildTicks: (s: any) => { s.ticks = Y_TICKS.map((v) => ({ value: v })); },
          afterFit: (s: any) => { s.width = yWidth; s.paddingTop = 0; s.paddingBottom = 0; },
          ticks: {
            display: showY, padding: 5, color: '#000',
            font: { family: SERIF, size: 20 },
            callback: (v: any) => String(v),
          },
        },
      },
    },
  };
}

function Panel({ left, width, config }: { left: number; width: number; config: () => any }) {
  const ref = useRef<HTMLCanvasElement | null>(null);
  useEffect(() => {
    if (!ref.current) return;
    const chart = new Chart(ref.current, config() as any);
    return () => chart.destroy();
  }, []);
  return (
    <canvas
      ref={ref}
      width={width}
      height={717}
      style={{ position: 'absolute', left, top: 0, width, height: 717 }}
    />
  );
}

const leftConfig = () => makeConfig(
  [
    bbFit(BB_GRB060218),
    bbFit(BB_EP250304A),
    bbFit(BB_GRB100316D),
    bbFit(BB_EP250108A),
    spec(XRF080109_EARLY, GREEN),
    spec(GRB060218_EARLY, PURPLE),
    spec(GRB100316D_EARLY, ORANGE),
    spec(EP250304A_EARLY, RED),
    spec(EP250108A_EARLY_HI, BLUE, { fill: '+1', backgroundColor: BLUE, borderWidth: 1 }),
    spec(EP250108A_EARLY_LO, BLUE, { borderWidth: 1 }),
  ],
  true, 118, 12,
  labelPlugin(LEFT_NAMES, LEFT_EPOCHS, LEFT_TBB, LEFT_LABEL_FLUX, LEFT_LABEL_WAVE, LEFT_COLORS),
);

const rightConfig = () => makeConfig(
  [
    spec(SN1998BW_LATE, TEAL),
    spec(GRB060218_LATE, PURPLE),
    spec(EP250304A_LATE, RED),
    spec(GRB100316D_LATE, ORANGE),
    spec(EP250108A_LATE, BLUE),
  ],
  false, 7, 7,
  labelPlugin(RIGHT_NAMES, RIGHT_EPOCHS, RIGHT_TBB, RIGHT_LABEL_FLUX, RIGHT_LABEL_WAVE, RIGHT_COLORS),
);

export default function App() {
  return (
    <div style={{ position: 'fixed', left: 0, top: 0, width: 945, height: 717, background: '#fff', fontFamily: SERIF, color: '#000', overflow: 'hidden' }}>
      <div style={{ position: 'absolute', left: 474, top: 1, transform: 'translateX(-50%)', fontSize: 17.5, lineHeight: '18px', whiteSpace: 'nowrap' }}>
        <i>A&amp;A proofs:</i> manuscript no. aanda
      </div>
      <Panel left={0} width={450} config={leftConfig} />
      <Panel left={450} width={495} config={rightConfig} />
      <div style={{ position: 'absolute', left: 20, top: 357, transform: 'translate(-50%, -50%) rotate(-90deg)', fontSize: 20, lineHeight: '20px', whiteSpace: 'nowrap' }}>
        Relative Flux (<i>F</i><sub style={{ fontSize: 14, verticalAlign: '-4px' }}><i>λ</i></sub>) + offset
      </div>
      <div style={{ position: 'absolute', left: 519, top: 689, transform: 'translateX(-50%)', fontSize: 21, lineHeight: '21px', whiteSpace: 'nowrap' }}>
        Rest wavelength (Å)
      </div>
    </div>
  );
}
